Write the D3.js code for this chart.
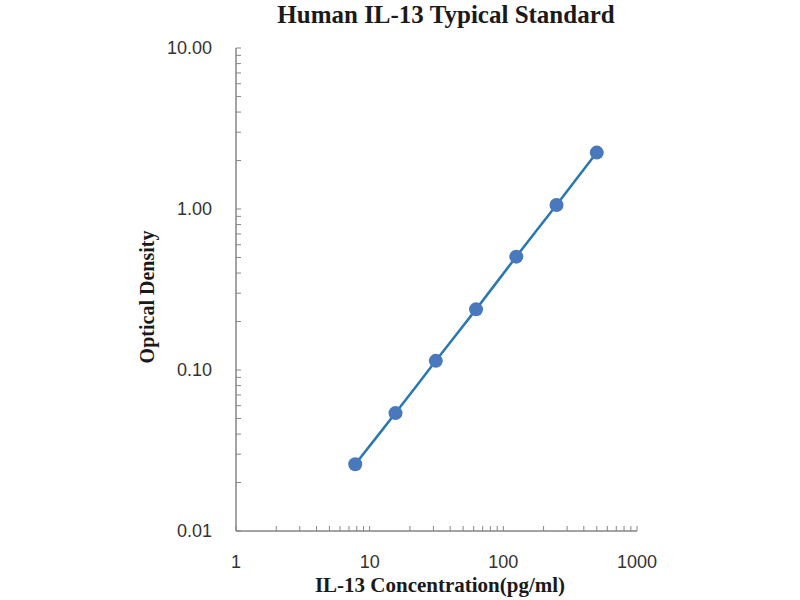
<!DOCTYPE html>
<html>
<head>
<meta charset="utf-8">
<script src="https://cdn.jsdelivr.net/npm/d3@7"></script>
<style>
  body { margin: 0; background: #fff; }
</style>
</head>
<body>
<div id="chart"></div>
<script>
// IL-13 standard curve
const concentrations = [7.8, 15.6, 31.25, 62.5, 125, 250, 500]
const opticalDensity = [0.026, 0.054, 0.114, 0.238, 0.506, 1.06, 2.24]
const yTicks = [0.01, 0.1, 1, 10]
const xTicks = [1, 10, 100, 1000]

const width = 800
const height = 600
const margin = { left: 236, right: 163, top: 48, bottom: 69 }

const svg = d3.select('#chart').append('svg')
  .attr('width', width).attr('height', height)

const x = d3.scaleLog().domain([1, 1000]).range([margin.left, width - margin.right])
const y = d3.scaleLog().domain([0.01, 10]).range([height - margin.bottom, margin.top])

const axisColor = '#868686'
const serif = '"Liberation Serif", "DejaVu Serif", serif'
const sans = '"Liberation Sans", Arial, sans-serif'

// minor ticks 1..9 per decade, drawn inside the plot
const minorX = x.ticks()
const minorY = y.ticks()

const xAxis = svg.append('g').attr('transform', `translate(0,${y.range()[0]})`)
xAxis.append('line').attr('x1', x.range()[0]).attr('x2', x.range()[1])
  .attr('stroke', axisColor).attr('stroke-width', 1.5)
xAxis.selectAll('line.tick').data(minorX).join('line')
  .attr('class', 'tick')
  .attr('x1', d => x(d)).attr('x2', d => x(d))
  .attr('y1', 0).attr('y2', -5)
  .attr('stroke', axisColor).attr('stroke-width', 1)
xAxis.selectAll('text').data(xTicks).join('text')
  .attr('x', d => x(d)).attr('y', 37)
  .attr('text-anchor', 'middle')
  .style('font-family', sans).style('font-size', '18px').attr('fill', '#333')
  .text(d => d)

const yAxis = svg.append('g').attr('transform', `translate(${x.range()[0]},0)`)
yAxis.append('line').attr('y1', y.range()[0]).attr('y2', y.range()[1])
  .attr('stroke', axisColor).attr('stroke-width', 1.5)
yAxis.selectAll('line.tick').data(minorY).join('line')
  .attr('class', 'tick')
  .attr('y1', d => y(d)).attr('y2', d => y(d))
  .attr('x1', 0).attr('x2', 5)
  .attr('stroke', axisColor).attr('stroke-width', 1)
yAxis.selectAll('text').data(yTicks).join('text')
  .attr('x', -24).attr('y', d => y(d)).attr('dy', '0.35em')
  .attr('text-anchor', 'end')
  .style('font-family', sans).style('font-size', '18px').attr('fill', '#333')
  .text(d => d.toFixed(2))

// smoothed line + markers
const data = concentrations.map((c, i) => ({ c, od: opticalDensity[i] }))
const line = d3.line().x(d => x(d.c)).y(d => y(d.od)).curve(d3.curveCatmullRom)

svg.append('path').datum(data)
  .attr('d', line)
  .attr('fill', 'none')
  .attr('stroke', '#2a78b0')
  .attr('stroke-width', 2.5)

svg.selectAll('circle').data(data).join('circle')
  .attr('cx', d => x(d.c)).attr('cy', d => y(d.od))
  .attr('r', 7)
  .attr('fill', '#4a78bd')

// titles
svg.append('text').attr('x', 446).attr('y', 23)
  .attr('text-anchor', 'middle')
  .style('font-family', serif).style('font-size', '25px').style('font-weight', 'bold')
  .attr('fill', '#1a1a1a')
  .text('Human IL-13 Typical Standard')

svg.append('text').attr('x', 440).attr('y', 592)
  .attr('text-anchor', 'middle')
  .style('font-family', serif).style('font-size', '21px').style('font-weight', 'bold')
  .attr('fill', '#1a1a1a')
  .text('IL-13 Concentration(pg/ml)')

svg.append('text')
  .attr('transform', 'translate(154,297) rotate(-90)')
  .attr('text-anchor', 'middle')
  .style('font-family', serif).style('font-size', '20px').style('font-weight', 'bold')
  .attr('fill', '#1a1a1a')
  .text('Optical Density')
</script>
</body>
</html>
